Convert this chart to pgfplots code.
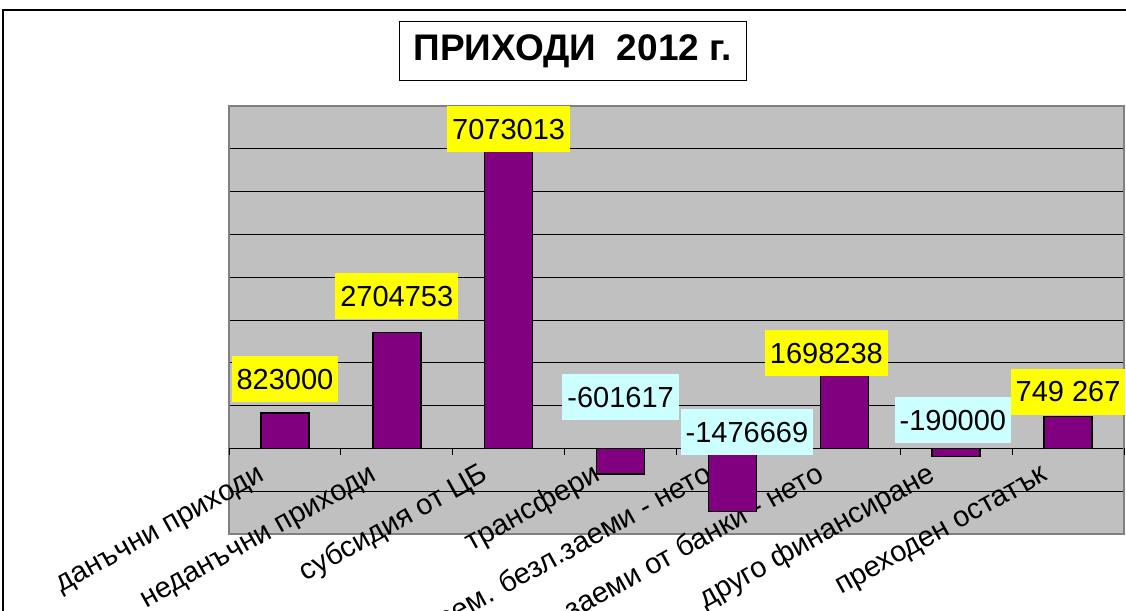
\documentclass[border=0pt]{standalone}
\usepackage{pgfplots}
\pgfplotsset{compat=1.18}
\usepackage{fontspec}
\setmainfont{Liberation Sans}
\definecolor{barpurple}{HTML}{800080}
\definecolor{plotgray}{HTML}{C0C0C0}
\definecolor{bordergray}{HTML}{808080}
\definecolor{labcyan}{HTML}{CCFFFF}
\definecolor{labyellow}{HTML}{FFFF00}

\pgfplotstableread[col sep=comma]{
x,y
1,823000
2,2704753
3,7073013
4,-601617
5,-1476669
6,1698238
7,-190000
8,749267
}\bars

\pgfplotstableread[col sep=comma]{
x,y,lab
1,1617000,823000
2,3554000,2704753
3,7452000,7073013
5.84,2224000,1698238
8.0,1326000,749 267
}\poslabels

\pgfplotstableread[col sep=comma]{
x,y,lab
4.0,1197000,-601617
5.13,380000,-1476669
6.97,663000,-190000
}\neglabels

\begin{document}
\begin{tikzpicture}[x=1pt,y=1pt]
\path[use as bounding box] (0,0) rectangle (1126,-610);
\draw[line width=1.2pt] (3,-10) rectangle (1140,-625);
\node[draw, line width=1pt, fill=white, minimum width=347pt, minimum height=58pt, inner sep=0pt,
      font=\bfseries\fontsize{37}{37}\selectfont] at (572.5,-51) {ПРИХОДИ~~2012 г.};
\begin{axis}[
  at={(229pt,-534pt)}, anchor=south west,
  scale only axis, width=895pt, height=428pt,
  xmin=0.5, xmax=8.5, ymin=-2000000, ymax=8000000,
  axis background/.style={fill=plotgray},
  axis line style={draw=bordergray, line width=1.5pt},
  ytick={-1000000,0,1000000,2000000,3000000,4000000,5000000,6000000,7000000},
  yticklabels={}, scaled y ticks=false,
  ymajorgrids, grid style={black, line width=0.9pt},
  xtick={1,2,3,4,5,6,7,8},
  xticklabels={данъчни приходи, неданъчни приходи, субсидия от ЦБ, трансфери, врем. безл.заеми - нето, заеми от банки - нето, друго финансиране, преходен остатък},
  major tick length=0pt,
  xticklabel style={font=\fontsize{29}{29}\selectfont, anchor=base east, xshift=-16pt, yshift=56pt, rotate=29},
  clip=false,
]
\addplot[ybar, bar width=48pt, fill=barpurple, draw=black, line width=1.5pt] table[x=x,y=y] {\bars};
\pgfplotsinvokeforeach{0.5,1.5,2.5,3.5,4.5,5.5,6.5,7.5,8.5}{
  \draw[black, line width=1pt] (axis cs:#1,0) -- ++(0pt,-7pt);
}
\addplot[draw=none, mark=none, nodes near coords, point meta=explicit symbolic,
  nodes near coords style={anchor=center, fill=labyellow, inner xsep=5pt, inner ysep=0pt,
    minimum height=46pt, font=\fontsize{29}{29}\selectfont}] table[x=x,y=y,meta=lab] {\poslabels};
\addplot[draw=none, mark=none, nodes near coords, point meta=explicit symbolic,
  nodes near coords style={anchor=center, fill=labcyan, inner xsep=5pt, inner ysep=0pt,
    minimum height=46pt, font=\fontsize{29}{29}\selectfont}] table[x=x,y=y,meta=lab] {\neglabels};
\end{axis}
\end{tikzpicture}
\end{document}
